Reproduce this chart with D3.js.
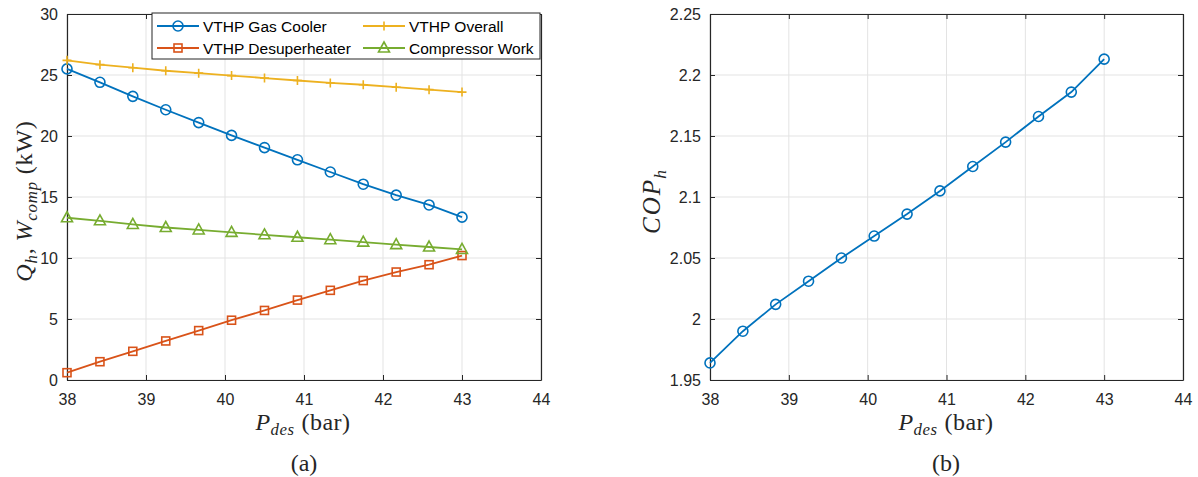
<!DOCTYPE html>
<html>
<head>
<meta charset="utf-8">
<script src="https://cdn.jsdelivr.net/npm/d3@7"></script>
<style>
body{margin:0;background:#fff;}
svg{display:block;}
.tick text{font-family:"Liberation Sans",Arial,sans-serif;font-size:16px;fill:#262626;}
.legend text{font-family:"Liberation Sans",Arial,sans-serif;font-size:15.5px;fill:#000;}
.lab{font-family:"Liberation Serif","Times New Roman",serif;fill:#262626;}
</style>
</head>
<body>
<script>
//pressure values (bar)
var pDes=[38,38.417,38.833,39.25,39.667,40.083,40.5,40.917,41.333,41.75,42.167,42.583,43];

//heat and work (kW)
var gasCooler=[25.5,24.4,23.25,22.15,21.1,20.05,19.05,18.05,17.05,16.05,15.15,14.35,13.35];
var desuperheater=[0.6,1.5,2.35,3.2,4.05,4.9,5.7,6.55,7.35,8.15,8.85,9.45,10.2];
var overall=[26.2,25.85,25.6,25.35,25.15,24.95,24.75,24.55,24.35,24.2,24.0,23.8,23.6];
var compWork=[13.3,13.05,12.75,12.5,12.3,12.1,11.9,11.7,11.5,11.3,11.1,10.9,10.7];

//coefficient of performance
var cop=[1.964,1.990,2.012,2.031,2.050,2.068,2.086,2.105,2.125,2.145,2.166,2.186,2.213];

//tick labels
var xTicks=[38,39,40,41,42,43,44];
var yTicksA=[0,5,10,15,20,25,30];
var yTicksB=[1.95,2,2.05,2.1,2.15,2.2,2.25];

var seriesA=[
	{name:"VTHP Gas Cooler",values:gasCooler,color:"#0072BD",marker:"circle"},
	{name:"VTHP Desuperheater",values:desuperheater,color:"#D95319",marker:"square"},
	{name:"VTHP Overall",values:overall,color:"#EDB120",marker:"plus"},
	{name:"Compressor Work",values:compWork,color:"#77AC30",marker:"triangle"}
];

var width=1198,height=477;
var svg=d3.select("body").append("svg")
	.attr("width",width)
	.attr("height",height);

//draw one marker at (0,0) inside group g
function drawMarker(g,type,color){
	if(type=="circle"){
		g.append("circle").attr("r",5).attr("fill","none").attr("stroke",color).attr("stroke-width",1.6);
	}else if(type=="square"){
		g.append("rect").attr("x",-4).attr("y",-4).attr("width",8).attr("height",8)
			.attr("fill","none").attr("stroke",color).attr("stroke-width",1.6);
	}else if(type=="plus"){
		g.append("path").attr("d","M-4.5,0H4.5M0,-4.5V4.5").attr("stroke",color).attr("stroke-width",1.6);
	}else if(type=="triangle"){
		g.append("path").attr("d","M0,-6L5.5,4L-5.5,4Z").attr("fill","none").attr("stroke",color).attr("stroke-width",1.6);
	}
}

//set up one MATLAB style axes box
function makeAxes(left,right,top,bottom,yDomain,yTicks,yFmt){
	var x=d3.scaleLinear().domain([38,44]).range([left,right]);
	var y=d3.scaleLinear().domain(yDomain).range([bottom,top]);
	var g=svg.append("g");

	//grid
	g.selectAll(".gx").data(xTicks).enter().append("line")
		.attr("x1",d=>x(d)).attr("x2",d=>x(d)).attr("y1",top).attr("y2",bottom)
		.attr("stroke","#e3e3e3").attr("stroke-width",1);
	g.selectAll(".gy").data(yTicks).enter().append("line")
		.attr("x1",left).attr("x2",right).attr("y1",d=>y(d)).attr("y2",d=>y(d))
		.attr("stroke","#e3e3e3").attr("stroke-width",1);

	var tk=5;
	var ax=[
		d3.axisBottom(x).tickValues(xTicks).tickSizeInner(-tk).tickSizeOuter(0).tickPadding(14).tickFormat(d3.format("d")),
		d3.axisTop(x).tickValues(xTicks).tickSizeInner(-tk).tickSizeOuter(0).tickFormat(""),
		d3.axisLeft(y).tickValues(yTicks).tickSizeInner(-tk).tickSizeOuter(0).tickPadding(9).tickFormat(yFmt),
		d3.axisRight(y).tickValues(yTicks).tickSizeInner(-tk).tickSizeOuter(0).tickFormat("")
	];
	var tr=["translate(0,"+bottom+")","translate(0,"+top+")","translate("+left+",0)","translate("+right+",0)"];
	ax.forEach(function(a,i){
		var ag=g.append("g").attr("transform",tr[i]).call(a);
		ag.select(".domain").attr("stroke","#262626").attr("stroke-width",1.2);
		ag.selectAll(".tick line").attr("stroke","#262626").attr("stroke-width",1);
	});
	return {x:x,y:y,g:g};
}

function drawSeries(axes,values,color,marker){
	var line=d3.line().x((d,i)=>axes.x(pDes[i])).y(d=>axes.y(d));
	axes.g.append("path").datum(values)
		.attr("d",line).attr("fill","none").attr("stroke",color).attr("stroke-width",1.8);
	values.forEach(function(v,i){
		var m=axes.g.append("g").attr("transform","translate("+axes.x(pDes[i])+","+axes.y(v)+")");
		drawMarker(m,marker,color);
	});
}

//math-style label helper
function mathLabel(t,parts,size){
	parts.forEach(function(p){
		var s=t.append("tspan").text(p.t);
		if(p.i) s.attr("font-style","italic");
		if(p.sub){
			s.attr("font-size",size*0.7).attr("dy",size*0.22);
		}else if(p.back){
			s.attr("dy",-size*0.22);
		}
		if(p.dx) s.attr("dx",p.dx);
		if(p.ls!=null) s.attr("letter-spacing",p.ls);
	});
}

//---- panel (a)
var a=makeAxes(67,541,14,380,[0,30],yTicksA,d3.format("d"));
seriesA.forEach(s=>drawSeries(a,s.values,s.color,s.marker));

//legend
var leg=svg.append("g").attr("class","legend");
leg.append("rect").attr("x",152).attr("y",13).attr("width",388).attr("height",46)
	.attr("fill","#fff").attr("stroke","#262626").attr("stroke-width",1);
var legPos=[[157,26],[157,48],[363,26],[363,48]];
seriesA.forEach(function(s,i){
	var lx=legPos[i][0],ly=legPos[i][1];
	leg.append("line").attr("x1",lx).attr("x2",lx+42).attr("y1",ly).attr("y2",ly)
		.attr("stroke",s.color).attr("stroke-width",1.8);
	var m=leg.append("g").attr("transform","translate("+(lx+21)+","+ly+")");
	drawMarker(m,s.marker,s.color);
	leg.append("text").attr("x",lx+46).attr("y",ly+5.5).text(s.name);
});

//axis labels (a)
var xl=svg.append("text").attr("class","lab").attr("x",303).attr("y",430)
	.attr("text-anchor","middle").attr("font-size",24).attr("letter-spacing",0.5);
mathLabel(xl,[{t:"P",i:1},{t:"des",i:1,sub:1},{t:"(bar)",back:1,dx:7}],24);

var yl=svg.append("text").attr("class","lab").attr("transform","translate(32,201) rotate(-90)")
	.attr("text-anchor","middle").attr("font-size",24).attr("letter-spacing",0.8);
mathLabel(yl,[{t:"Q",i:1},{t:"h",i:1,sub:1},{t:",",back:1},{t:"W",i:1,dx:6},{t:"comp",i:1,sub:1},{t:"(kW)",back:1,dx:7}],24);

svg.append("text").attr("class","lab").attr("x",304).attr("y",471)
	.attr("text-anchor","middle").attr("font-size",24).attr("fill","#000").text("(a)");

//---- panel (b)
var b=makeAxes(710,1183,14,380,[1.95,2.25],yTicksB,d3.format("~g"));
drawSeries(b,cop,"#0072BD","circle");

var xl2=svg.append("text").attr("class","lab").attr("x",946).attr("y",430)
	.attr("text-anchor","middle").attr("font-size",24).attr("letter-spacing",0.5);
mathLabel(xl2,[{t:"P",i:1},{t:"des",i:1,sub:1},{t:"(bar)",back:1,dx:7}],24);

var yl2=svg.append("text").attr("class","lab").attr("transform","translate(660,202) rotate(-90)")
	.attr("text-anchor","middle").attr("font-size",25);
mathLabel(yl2,[{t:"C",i:1,ls:2},{t:"O",i:1,ls:2},{t:"P",i:1,ls:0},{t:"h",i:1,sub:1,dx:1}],25);

svg.append("text").attr("class","lab").attr("x",946).attr("y",471)
	.attr("text-anchor","middle").attr("font-size",24).attr("fill","#000").text("(b)");
</script>
</body>
</html>
